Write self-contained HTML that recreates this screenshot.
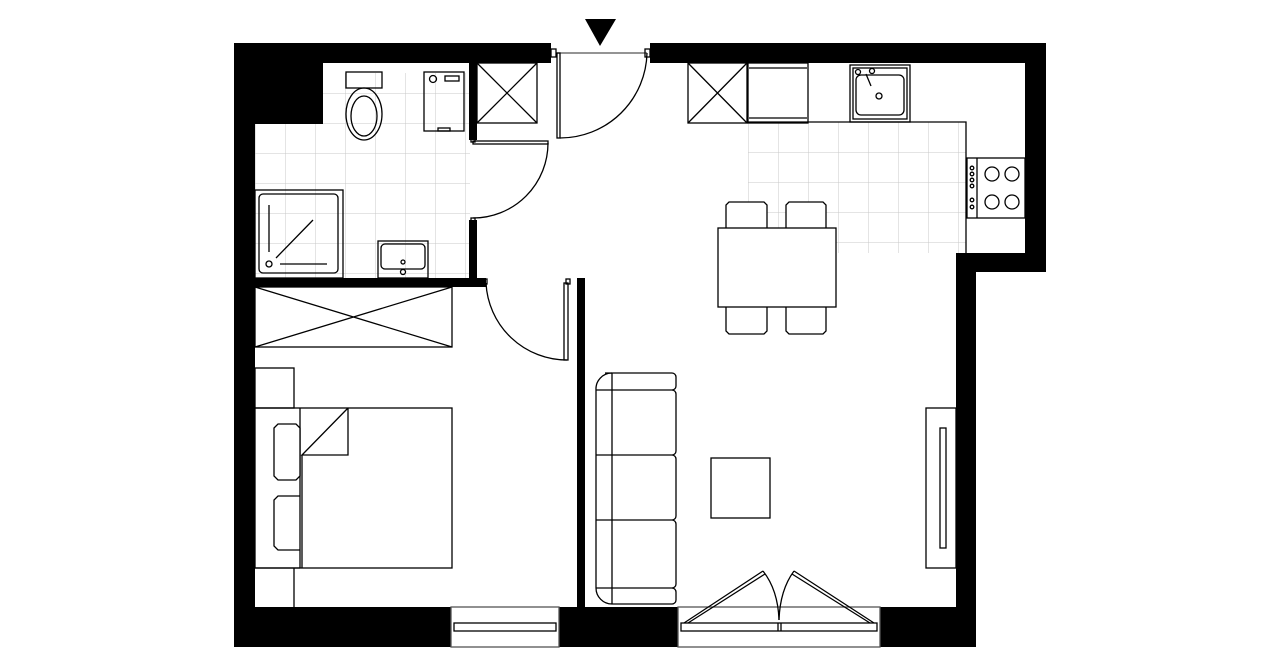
<!DOCTYPE html>
<html><head><meta charset="utf-8"><style>html,body{margin:0;padding:0;background:#fff}svg{display:block}</style></head><body>
<svg width="1280" height="667" viewBox="0 0 1280 667" xmlns="http://www.w3.org/2000/svg">
<defs>
<pattern id="tile" x="255" y="63" width="30" height="30" patternUnits="userSpaceOnUse">
<rect width="30" height="30" fill="#fff"/><path d="M0 0H30M0 0V30" stroke="#c8c8c8" stroke-width="1" fill="none"/>
</pattern>
<pattern id="tile2" x="748" y="122" width="30" height="30" patternUnits="userSpaceOnUse">
<rect width="30" height="30" fill="#fff"/><path d="M0 0H30M0 0V30" stroke="#c8c8c8" stroke-width="1" fill="none"/>
</pattern>
</defs>
<rect width="1280" height="667" fill="#fff"/>
<!-- tiles -->
<rect x="323" y="73" width="147" height="52" fill="url(#tile)"/>
<rect x="255" y="124" width="215" height="155" fill="url(#tile)"/>
<rect x="748" y="122" width="218" height="131" fill="url(#tile2)"/>
<rect x="718" y="228" width="30" height="25" fill="#fff"/>
<!-- walls -->
<g fill="#000">
<rect x="234" y="43" width="317" height="20"/>
<rect x="234" y="43" width="21" height="604"/>
<rect x="255" y="63" width="68" height="61"/>
<rect x="650" y="43" width="396" height="20"/>
<rect x="1025" y="43" width="21" height="229"/>
<rect x="956" y="253" width="90" height="19"/>
<rect x="956" y="253" width="20" height="394"/>
<rect x="469" y="63" width="8" height="77"/>
<rect x="469" y="220" width="8" height="58"/>
<rect x="255" y="278" width="231" height="9"/>
<rect x="577" y="278" width="8" height="330"/>
<rect x="234" y="607" width="217" height="40"/>
<rect x="559" y="607" width="119" height="40"/>
<rect x="880" y="607" width="96" height="40"/>
<polygon points="585,19 616,19 600,46"/>
</g>
<g fill="none" stroke="#000" stroke-width="1.3">
<!-- entrance door -->
<line x1="557" y1="53" x2="647" y2="53" stroke="#555"/>
<rect x="557" y="53" width="3" height="85"/>
<path d="M560 138 A87 87 0 0 0 647 53"/>
<rect x="551" y="49" width="5" height="8"/><rect x="645" y="49" width="5" height="8"/>
<!-- closet -->
<rect x="477" y="63" width="60" height="60"/><path d="M477 63L537 123M537 63L477 123"/>
<!-- bathroom door -->
<rect x="473" y="141" width="75" height="3"/>
<path d="M548 143 A75 75 0 0 1 473 218"/>
<rect x="471" y="137" width="4" height="5"/><rect x="471" y="218" width="4" height="5"/>
<!-- toilet -->
<rect x="346" y="72" width="36" height="16"/>
<ellipse cx="364" cy="114" rx="18" ry="26"/><ellipse cx="364" cy="116" rx="13" ry="20"/>
<!-- washer -->
<rect x="424" y="72" width="40" height="59"/><circle cx="433" cy="79" r="3.5"/><rect x="445" y="76" width="14" height="5"/><rect x="438" y="128" width="12" height="3"/>
<!-- shower -->
<rect x="255" y="190" width="88" height="88"/><rect x="259" y="194" width="79" height="79" rx="4"/>
<path d="M269 205V252M276 258L313 220M280 264H327"/><circle cx="269" cy="264" r="3"/>
<!-- bath sink -->
<rect x="378" y="241" width="50" height="37"/><rect x="381" y="244" width="44" height="25" rx="4"/><circle cx="403" cy="262" r="2"/><circle cx="403" cy="272" r="2.5"/>
<!-- wardrobe -->
<rect x="255" y="287" width="197" height="60"/><path d="M255 287L452 347M452 287L255 347"/>
<!-- bedroom door -->
<path d="M486 283 A81 81 0 0 0 567 360"/>
<rect x="564" y="283" width="4" height="77"/>
<rect x="483" y="279" width="4" height="5"/><rect x="566" y="279" width="4" height="5"/>
<!-- bedroom furniture -->
<rect x="255" y="368" width="39" height="40"/>
<path d="M294 568V607M255 568H300"/>
<rect x="255" y="408" width="197" height="160"/>
<path d="M300 408V568"/>
<path d="M274 428l4-4h18l4 4v48l-4 4h-18l-4-4z" fill="#fff"/>
<path d="M300 496h-22l-4 4v46l4 4h22"/>
<path d="M348 408V455H302L348 408" fill="#fff"/>
<path d="M302 455V568"/>
<!-- sofa -->
<path d="M605 373H672a4 4 0 0 1 4 4V386a4 4 0 0 1-4 4"/>
<path d="M596 390a16 16 0 0 1 16-17"/>
<rect x="594" y="388" width="10" height="215" rx="0" stroke="none" fill="none"/>
<path d="M612 373V604M596 390V588a16 16 0 0 0 16 16H672a4 4 0 0 0 4-4V592a4 4 0 0 0-4-4"/>
<path d="M596 390H672a4 4 0 0 1 4 4V451a4 4 0 0 1-4 4H596M596 455H672a4 4 0 0 1 4 4V516a4 4 0 0 1-4 4H596M596 520H672a4 4 0 0 1 4 4V584a4 4 0 0 1-4 4H596"/>
<rect x="711" y="458" width="59" height="60"/>
<!-- TV -->
<rect x="926" y="408" width="30" height="160"/><rect x="940" y="428" width="6" height="120"/>
<!-- kitchen -->
<rect x="688" y="63" width="59" height="60"/><path d="M688 63L747 123M747 63L688 123"/>
<rect x="748" y="63" width="60" height="60"/><path d="M749 68H807M749 118H807"/>
<rect x="808" y="63" width="158" height="59" stroke="none"/>
<path d="M748 122H966V253"/>
<rect x="850" y="65" width="60" height="57"/><rect x="853" y="68" width="54" height="51"/><rect x="856" y="75" width="48" height="40" rx="5"/>
<circle cx="879" cy="96" r="3"/><circle cx="858" cy="72" r="2.5"/><circle cx="872" cy="71" r="2.5"/><path d="M866 74L871 86"/>
<rect x="967" y="158" width="58" height="60"/><path d="M977 158V218"/>
<circle cx="992" cy="174" r="7"/><circle cx="1012" cy="174" r="7"/><circle cx="992" cy="202" r="7"/><circle cx="1012" cy="202" r="7"/>
<circle cx="972" cy="168" r="1.8"/><circle cx="972" cy="174" r="1.8"/><circle cx="972" cy="180" r="1.8"/><circle cx="972" cy="186" r="1.8"/><circle cx="972" cy="200" r="1.8"/><circle cx="972" cy="207" r="1.8"/>
<!-- table & chairs -->
<path d="M726 228V205l3-3h35l3 3v23" fill="#fff"/><path d="M786 228V205l3-3h34l3 3v23" fill="#fff"/>
<rect x="718" y="228" width="118" height="79" fill="#fff"/>
<path d="M726 307V331l3 3h35l3-3V307M786 307V331l3 3h34l3-3V307"/>
<!-- windows -->
<rect x="451" y="607" width="108" height="40" stroke="#555"/><rect x="454" y="623" width="102" height="8"/>
<rect x="678" y="607" width="202" height="40" stroke="#555"/><rect x="681" y="623" width="196" height="8"/>
<path d="M778 623V631M781 623V631"/>
<path d="M684 623L763 571M688 623L765 574"/><path d="M763 571Q778 590 779 620"/>
<path d="M874 623L794 571M870 623L792 574"/><path d="M794 571Q780 590 779 620"/>
</g>
</svg>
</body></html>
